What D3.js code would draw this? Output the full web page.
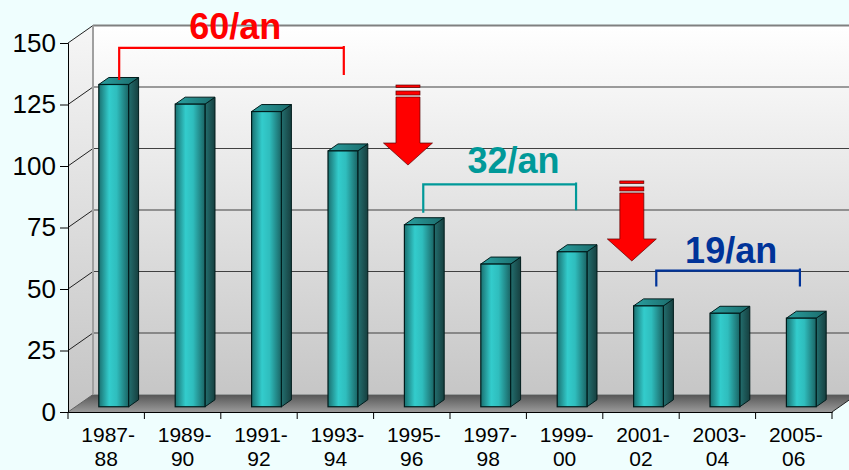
<!DOCTYPE html>
<html>
<head>
  <meta charset="utf-8">
  <title>Bars 3D</title>
  <style>
    body { margin: 0; background: #effefe; }
    svg { display: block; }
    svg text { font-family: "Liberation Sans", Arial, sans-serif; }
  </style>
</head>
<body>
  <svg width="849" height="470"></svg>
  <script src="https://cdnjs.cloudflare.com/ajax/libs/d3/7.8.5/d3.min.js"></script>
  <script>
    // données
    const categories = ["1987-88", "1989-90", "1991-92", "1993-94", "1995-96",
                        "1997-98", "1999-00", "2001-02", "2003-04", "2005-06"];
    const values = [131, 123, 120, 104, 74, 58, 63, 41, 38, 36];
    const yTicks = [0, 25, 50, 75, 100, 125, 150];

    // annotations (positions en unités de catégorie / valeurs)
    const rateLabels = ["60/an", "32/an", "19/an"];
    const rateColors = ["#ff0000", "#009999", "#003399"];
    const rateFrom = [0.67, 4.65, 7.7];
    const rateTo = [3.61, 6.65, 9.58];
    const rateLevel = [148, 92.5, 57.5];
    const rateLeftEnd = [135, 81, 51];
    const rateRightEnd = [137, 82, 51];
    const rateTextPos = [2.19, 5.83, 8.68];
    const rateTextLevel = [151.6, 97.2, 60.6];
    const arrowPos = [4.45, 7.38];
    const arrowTip = [100.4, 61.4];

    const svg = d3.select("svg");
    const depth = {dx: 25, dy: -17.5};

    const x = d3.scaleBand().domain(categories).range([68, 832]).padding(0);
    const pos = d3.scaleLinear().domain([0, 10]).range([68, 832]);
    const y = d3.scaleLinear().domain([0, 150]).range([412, 43]);
    const bw = x.bandwidth();

    const defs = svg.append("defs");
    function grad(id, x2, y2, stops) {
      const g = defs.append("linearGradient").attr("id", id)
        .attr("x1", 0).attr("y1", 0).attr("x2", x2).attr("y2", y2);
      stops.forEach(s => g.append("stop").attr("offset", s[0]).attr("stop-color", s[1]));
    }
    grad("wall", 0, 1, [[0, "#ffffff"], [1, "#c6c6c6"]]);
    grad("side", 0, 1, [[0, "#f6f6f6"], [1, "#c4c4c4"]]);
    grad("floor", 0, 1, [[0, "#555555"], [1, "#9a9a9a"]]);
    grad("front", 1, 0, [[0, "#1a7070"], [0.35, "#33cccc"], [0.6, "#2fbdbd"], [1, "#1a6464"]]);
    grad("right", 1, 0, [[0, "#236f6f"], [1, "#163f3f"]]);
    grad("top", 1, 0, [[0, "#2aa0a0"], [1, "#1b6b6b"]]);

    const xL = 68, xR = 832;
    // mur du fond
    svg.append("rect")
      .attr("x", xL + depth.dx).attr("y", y(150) + depth.dy)
      .attr("width", xR - xL).attr("height", y(0) - y(150))
      .attr("fill", "url(#wall)");
    // mur gauche
    svg.append("path")
      .attr("d", `M${xL},${y(150)}L${xL + depth.dx},${y(150) + depth.dy}L${xL + depth.dx},${y(0) + depth.dy}L${xL},${y(0)}Z`)
      .attr("fill", "url(#side)");
    // sol
    svg.append("path")
      .attr("d", `M${xL},${y(0)}L${xR},${y(0)}L${xR + depth.dx},${y(0) + depth.dy}L${xL + depth.dx},${y(0) + depth.dy}Z`)
      .attr("fill", "url(#floor)");

    // quadrillage
    const grid = svg.append("g");
    grid.selectAll(".gb").data(yTicks.filter(v => v > 0)).enter().append("line")
      .attr("x1", xL + depth.dx).attr("x2", xR + depth.dx)
      .attr("y1", d => y(d) + depth.dy).attr("y2", d => y(d) + depth.dy)
      .attr("stroke", d => d === 150 ? "#808080" : "#404040")
      .attr("stroke-width", d => d === 150 ? 2 : 1.2);
    grid.selectAll(".gs").data(yTicks).enter().append("line")
      .attr("x1", xL).attr("x2", xL + depth.dx)
      .attr("y1", d => y(d)).attr("y2", d => y(d) + depth.dy)
      .attr("stroke", d => d === 0 ? "#606060" : "#202020").attr("stroke-width", 1);
    grid.append("line")
      .attr("x1", xL + depth.dx).attr("x2", xL + depth.dx)
      .attr("y1", y(150) + depth.dy).attr("y2", y(0) + depth.dy)
      .attr("stroke", "#a0a0a0").attr("stroke-width", 2);
    grid.append("line")
      .attr("x1", xR).attr("x2", xR + depth.dx)
      .attr("y1", y(0)).attr("y2", y(0) + depth.dy)
      .attr("stroke", "#202020").attr("stroke-width", 1);

    // axes
    const yAxis = svg.append("g").attr("transform", `translate(${xL},0)`)
      .call(d3.axisLeft(y).tickValues(yTicks).tickSize(8).tickPadding(4));
    yAxis.select(".domain").attr("stroke", "#000");
    yAxis.selectAll("text").style("font-size", "26px").attr("fill", "#000");

    const xAxis = svg.append("g").attr("transform", `translate(0,${y(0)})`)
      .call(d3.axisBottom(x).tickSize(0).tickFormat(""));
    xAxis.select(".domain").attr("stroke", "#000");
    xAxis.selectAll(".bt").data(d3.range(categories.length + 1)).enter().append("line")
      .attr("x1", i => pos(i)).attr("x2", i => pos(i)).attr("y1", 0).attr("y2", 7)
      .attr("stroke", "#000");
    const xl = xAxis.selectAll(".xl").data(categories).enter().append("text")
      .attr("text-anchor", "middle").style("font-size", "21px").attr("fill", "#000")
      .attr("x", d => x(d) + bw / 2);
    xl.append("tspan").attr("x", d => x(d) + bw / 2 + 2).attr("y", 30).text(d => d.split("-")[0] + "-");
    xl.append("tspan").attr("x", d => x(d) + bw / 2).attr("y", 53.5).text(d => d.split("-")[1]);

    // barres 3D
    const f0 = 0.3, f1 = 0.7;
    const bars = svg.append("g").selectAll("g").data(values).enter().append("g");
    const bx0 = (d, i) => x(categories[i]) + bw * 0.305 + depth.dx * f0;
    const bx1 = (d, i) => bx0(d, i) + bw * 0.39;
    const byT = d => y(d) + depth.dy * f0;
    const byB = () => y(0) + depth.dy * f0;
    const ddx = depth.dx * (f1 - f0), ddy = depth.dy * (f1 - f0);
    bars.append("path")
      .attr("d", (d, i) => `M${bx1(d, i)},${byT(d)}L${bx1(d, i) + ddx},${byT(d) + ddy}L${bx1(d, i) + ddx},${byB() + ddy}L${bx1(d, i)},${byB()}Z`)
      .attr("fill", "url(#right)").attr("stroke", "#001c1c").attr("stroke-width", 1).attr("stroke-linejoin", "round");
    bars.append("path")
      .attr("d", (d, i) => `M${bx0(d, i)},${byT(d)}L${bx1(d, i)},${byT(d)}L${bx1(d, i) + ddx},${byT(d) + ddy}L${bx0(d, i) + ddx},${byT(d) + ddy}Z`)
      .attr("fill", "url(#top)").attr("stroke", "#001c1c").attr("stroke-width", 1).attr("stroke-linejoin", "round");
    bars.append("rect")
      .attr("x", bx0).attr("y", byT)
      .attr("width", bw * 0.39).attr("height", d => byB() - byT(d))
      .attr("fill", "url(#front)").attr("stroke", "#001c1c").attr("stroke-width", 1.2);

    // accolades et taux
    const ann = svg.append("g");
    rateLabels.forEach((lab, i) => {
      const a = pos(rateFrom[i]), b = pos(rateTo[i]), h = y(rateLevel[i]);
      ann.append("path")
        .attr("d", `M${a},${y(rateLeftEnd[i])}L${a},${h}L${b},${h}M${b},${h - 2}L${b},${y(rateRightEnd[i])}`)
        .attr("fill", "none").attr("stroke", rateColors[i]).attr("stroke-width", 2.2);
      ann.append("text")
        .attr("x", pos(rateTextPos[i])).attr("y", y(rateTextLevel[i]))
        .attr("text-anchor", "middle").style("font-size", "36px").attr("font-weight", "bold")
        .attr("fill", rateColors[i]).text(lab);
    });

    // flèches rouges
    arrowPos.forEach((p, i) => {
      const cx = pos(p), tip = y(arrowTip[i]);
      const base = tip - 22, stemTop = base - 46;
      const g = ann.append("g").attr("fill", "#ff0000").attr("stroke", "#5a0000").attr("stroke-width", 0.7);
      g.append("path")
        .attr("d", `M${cx - 12},${stemTop}L${cx + 12},${stemTop}L${cx + 12},${base}L${cx + 24.5},${base}L${cx},${tip}L${cx - 24.5},${base}L${cx - 12},${base}Z`);
      g.append("rect").attr("x", cx - 12).attr("y", stemTop - 6).attr("width", 24).attr("height", 4);
      g.append("rect").attr("x", cx - 12).attr("y", stemTop - 12).attr("width", 24).attr("height", 2.5);
    });
  </script>
</body>
</html>
